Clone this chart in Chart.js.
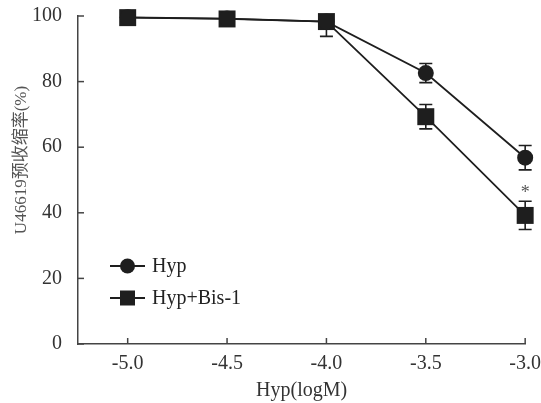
<!DOCTYPE html>
<html>
<head>
<meta charset="utf-8">
<script src="https://cdn.jsdelivr.net/npm/chart.js@4/dist/chart.umd.min.js"></script>
<style>
  html, body { margin: 0; padding: 0; background: #fff; }
  #wrap { width: 541px; height: 403px; }
</style>
</head>
<body>
<div id="wrap"><canvas id="chart" width="541" height="403"></canvas></div>
<script>
// concentrations (logM)
const doses = [-5.0, -4.5, -4.0, -3.5, -3.0];
const seriesNames = ['Hyp', 'Hyp+Bis-1'];
// % of U46619 precontraction
const hypValues = [99.6, 99.2, 98.3, 82.6, 56.8];
const hypErrors = [0.5, 0.5, 1.5, 2.9, 3.7];
const bisValues = [99.5, 99.1, 98.3, 69.3, 39.2];
const bisErrors = [0.5, 0.5, 4.5, 3.7, 4.3];
const yTicks = [0, 20, 40, 60, 80, 100];
const yTitle = 'U46619预收缩率(%)';
const xTitle = 'Hyp(logM)';

const INK = '#1e1e1e';
const SERIF = '"Liberation Serif", "Times New Roman", serif';

const toPoints = (vals) => doses.map((d, i) => ({ x: d, y: vals[i] }));

const extras = {
  id: 'extras',
  beforeDatasetsDraw(chart) {
    const { ctx, scales: { x, y }, chartArea } = chart;
    // error bars, clipped at the top of the plot
    ctx.save();
    ctx.beginPath();
    ctx.rect(chartArea.left - 20, chartArea.top, chartArea.width + 40, chartArea.height);
    ctx.clip();
    ctx.strokeStyle = INK;
    ctx.lineWidth = 1.6;
    [[hypValues, hypErrors], [bisValues, bisErrors]].forEach(([vals, errs]) => {
      doses.forEach((d, i) => {
        const px = x.getPixelForValue(d);
        const hi = y.getPixelForValue(vals[i] + errs[i]);
        const lo = y.getPixelForValue(vals[i] - errs[i]);
        ctx.beginPath();
        ctx.moveTo(px, hi); ctx.lineTo(px, lo);
        ctx.moveTo(px - 6.5, hi); ctx.lineTo(px + 6.5, hi);
        ctx.moveTo(px - 6.5, lo); ctx.lineTo(px + 6.5, lo);
        ctx.stroke();
      });
    });
    ctx.restore();
  },
  afterDraw(chart) {
    const { ctx, scales: { x, y }, chartArea } = chart;
    ctx.save();
    // inward tick marks
    ctx.strokeStyle = '#444';
    ctx.lineWidth = 1.5;
    doses.forEach(d => {
      const px = x.getPixelForValue(d);
      ctx.beginPath();
      ctx.moveTo(px, chartArea.bottom); ctx.lineTo(px, chartArea.bottom - 6);
      ctx.stroke();
    });
    yTicks.forEach(v => {
      const py = y.getPixelForValue(v);
      ctx.beginPath();
      ctx.moveTo(chartArea.left, py); ctx.lineTo(chartArea.left + 6, py);
      ctx.stroke();
    });

    // y axis title
    ctx.translate(22, 160);
    ctx.rotate(-Math.PI / 2);
    ctx.fillStyle = '#555';
    ctx.font = '17px ' + SERIF + ', "Noto Sans CJK SC"';
    ctx.textAlign = 'center';
    ctx.textBaseline = 'middle';
    ctx.fillText(yTitle, 0, 0);
    ctx.restore();

    // significance mark
    ctx.save();
    ctx.fillStyle = '#555';
    ctx.font = '18px ' + SERIF;
    ctx.textAlign = 'center';
    ctx.textBaseline = 'middle';
    const last = doses.length - 1;
    ctx.fillText('*', x.getPixelForValue(doses[last]),
      y.getPixelForValue(bisValues[last] + bisErrors[last]) - 8);

    // legend
    const rows = [266, 298];
    ctx.strokeStyle = INK;
    ctx.lineWidth = 1.8;
    ctx.font = '20px ' + SERIF;
    ctx.textAlign = 'left';
    rows.forEach((ry, i) => {
      ctx.beginPath();
      ctx.moveTo(110, ry); ctx.lineTo(145, ry);
      ctx.stroke();
      ctx.fillStyle = INK;
      if (i === 0) {
        ctx.beginPath();
        ctx.arc(127.5, ry, 7.5, 0, Math.PI * 2);
        ctx.fill();
      } else {
        ctx.fillRect(120, ry - 7.5, 15, 15);
      }
      ctx.fillStyle = '#222';
      ctx.fillText(seriesNames[i], 152, ry + 1);
    });
    ctx.restore();
  }
};

new Chart(document.getElementById('chart'), {
  type: 'line',
  data: {
    datasets: [
      {
        label: seriesNames[0],
        data: toPoints(hypValues),
        borderColor: INK,
        backgroundColor: INK,
        borderWidth: 1.8,
        pointStyle: 'circle',
        pointRadius: 8,
        pointBorderWidth: 0,
        tension: 0,
        clip: false,
      },
      {
        label: seriesNames[1],
        data: toPoints(bisValues),
        borderColor: INK,
        backgroundColor: INK,
        borderWidth: 1.8,
        pointStyle: 'rect',
        pointRadius: 12,
        pointBorderWidth: 0,
        tension: 0,
        clip: false,
      },
    ],
  },
  options: {
    responsive: false,
    animation: false,
    layout: { padding: { top: 16, right: 14, left: 0, bottom: 0 } },
    plugins: {
      legend: { display: false },
      tooltip: { enabled: false },
    },
    scales: {
      x: {
        type: 'linear',
        min: -5.25,
        max: -3.0,
        afterBuildTicks: (scale) => { scale.ticks = doses.map(v => ({ value: v })); },
        afterFit: (scale) => { scale.height = 59; },
        grid: { display: false },
        border: { display: true, color: '#444', width: 1.5 },
        ticks: {
          color: '#333',
          font: { family: SERIF, size: 20 },
          padding: 0,
          callback: (v) => v.toFixed(1),
        },
        title: {
          display: true,
          text: xTitle,
          color: '#333',
          font: { family: SERIF, size: 20 },
          padding: { top: 0, bottom: 0 },
        },
      },
      y: {
        min: 0,
        max: 100,
        afterBuildTicks: (scale) => { scale.ticks = yTicks.map(v => ({ value: v })); },
        afterFit: (scale) => { scale.width = 78; scale.paddingTop = 0; },
        grid: { display: false },
        border: { display: true, color: '#444', width: 1.5 },
        ticks: {
          color: '#333',
          font: { family: SERIF, size: 20, lineHeight: 1 },
          padding: 8,
        },
      },
    },
  },
  plugins: [extras],
});
</script>
</body>
</html>
